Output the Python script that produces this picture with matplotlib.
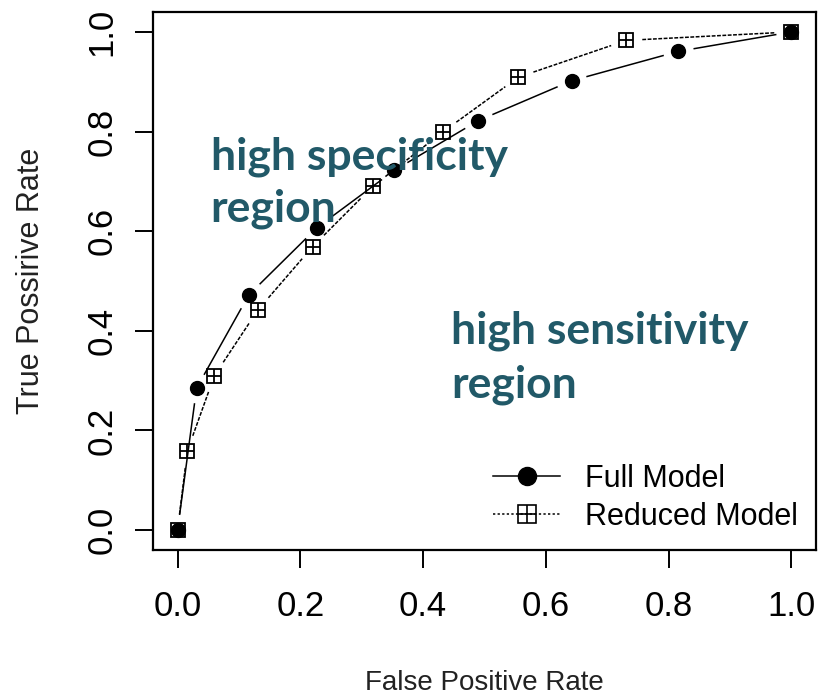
import numpy as np
import matplotlib
matplotlib.use("Agg")
import matplotlib.pyplot as plt
from matplotlib.lines import Line2D

# ROC points for the two models
fpr_full = [0.0, 0.031, 0.116, 0.227, 0.353, 0.490, 0.642, 0.816, 1.0]
tpr_full = [0.0, 0.285, 0.472, 0.607, 0.722, 0.822, 0.902, 0.961, 1.0]

fpr_reduced = [0.0, 0.016, 0.060, 0.131, 0.220, 0.318, 0.433, 0.555, 0.731, 1.0]
tpr_reduced = [0.0, 0.159, 0.310, 0.442, 0.569, 0.690, 0.800, 0.909, 0.983, 1.0]

x_ticks = [0.0, 0.2, 0.4, 0.6, 0.8, 1.0]
y_ticks = [0.0, 0.2, 0.4, 0.6, 0.8, 1.0]

TEAL = "#215968"
W, H = 827, 699
DPI = 100

plt.rcParams["font.family"] = ["Liberation Sans", "DejaVu Sans"]
fig = plt.figure(figsize=(W / DPI, H / DPI), dpi=DPI)
ax = fig.add_axes([153 / W, 1 - 550 / H, (816 - 153) / W, (550 - 12) / H])
ax.set_xlim(-0.04, 1.04)
ax.set_ylim(-0.04, 1.04)

for s in ax.spines.values():
    s.set_linewidth(1.6)


def gapped_segments(xs, ys, gap_px, **kw):
    """Draw connecting lines that stop short of each point (R type='b')."""
    pts = ax.transData.transform(np.column_stack([xs, ys]))
    inv = ax.transData.inverted()
    for p0, p1 in zip(pts[:-1], pts[1:]):
        d = p1 - p0
        L = np.hypot(*d)
        if L <= 2 * gap_px:
            continue
        u = d / L
        a = inv.transform(p0 + u * gap_px)
        b = inv.transform(p1 - u * gap_px)
        ax.plot([a[0], b[0]], [a[1], b[1]], **kw)


gapped_segments(fpr_full, tpr_full, 16, color="black", lw=1.1, ls="-")
gapped_segments(fpr_reduced, tpr_reduced, 16, color="black", lw=1.1,
                ls=(0, (2.5, 1)))

ax.plot(fpr_full, tpr_full, ls="none", marker="o", ms=10, color="black")
ax.plot(fpr_reduced, tpr_reduced, ls="none", marker="s", ms=10,
        mfc="none", mec="black", mew=1.3)
ax.plot(fpr_reduced, tpr_reduced, ls="none", marker="+", ms=10,
        color="black", mew=1.3)

ax.set_xticks(x_ticks)
ax.set_yticks(y_ticks)
ax.set_xticklabels([f"{v:.1f}" for v in x_ticks], fontsize=25)
ax.set_yticklabels([f"{v:.1f}" for v in y_ticks], fontsize=25,
                   rotation=90, va="center")
ax.tick_params(axis="x", direction="out", length=13, width=1.4, pad=16)
ax.tick_params(axis="y", direction="out", length=13, width=1.4, pad=12)

ax.set_xlabel("False Positive Rate", fontsize=20, color="#222222", labelpad=34)
ax.set_ylabel("True Possirive Rate", fontsize=22, color="#222222", labelpad=28)

# Legend
h_full = Line2D([], [], color="black", lw=1.1, marker="o", ms=13)
h_red_sq = Line2D([], [], color="black", lw=1.1, ls=(0, (1.5, 1.5)),
                  marker="s", ms=13, mfc="none", mew=1.2)
h_red_pl = Line2D([], [], ls="none", marker="+", ms=13, color="black", mew=1.2)
ax.legend([h_full, (h_red_sq, h_red_pl)], ["Full Model", "Reduced Model"],
          loc="lower right", frameon=False, fontsize=22, handlelength=2.2,
          handletextpad=0.8, labelspacing=0.25, borderaxespad=0.2,
          bbox_to_anchor=(1.0, 0.0))

ax.text(0.054, 0.79, "high specificity\nregion", fontsize=32,
        fontweight="bold", color=TEAL, family=["Lato", "DejaVu Sans"],
        va="top", ha="left", linespacing=1.35)
ax.text(0.446, 0.44, "high sensitivity\nregion", fontsize=32,
        fontweight="bold", color=TEAL, family=["Lato", "DejaVu Sans"],
        va="top", ha="left", linespacing=1.4)

fig.savefig("out.png", dpi=DPI)
